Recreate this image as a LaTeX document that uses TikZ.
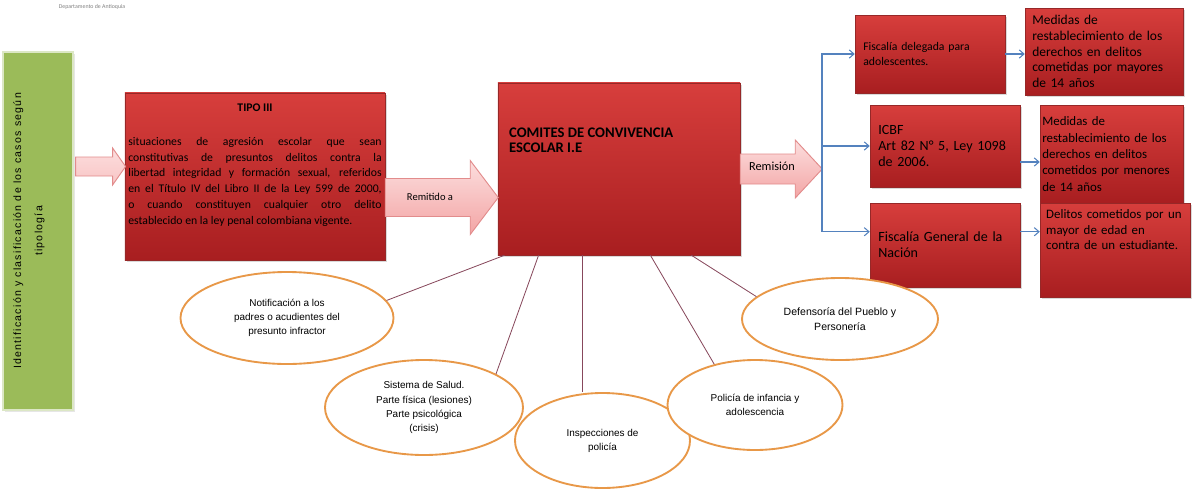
\documentclass[tikz,border=0pt]{standalone}
\usepackage{fontspec}
\setmainfont{Carlito}
\newfontfamily\spreadfont[LetterSpace=12]{Liberation Sans}
\newfontfamily\ringfamily{Liberation Sans}
\usetikzlibrary{shapes.geometric,shadows,arrows.meta}

\definecolor{boxtop}{RGB}{215,62,60}
\definecolor{boxbottom}{RGB}{168,30,32}
\definecolor{boxline}{RGB}{150,40,40}
\definecolor{pinktop}{RGB}{252,222,222}
\definecolor{pinkbottom}{RGB}{243,165,165}
\definecolor{pinkline}{RGB}{226,140,140}
\definecolor{leafgreen}{RGB}{155,187,89}
\definecolor{ringorange}{RGB}{232,152,72}
\definecolor{linkplum}{RGB}{135,72,92}
\definecolor{forkblue}{RGB}{84,130,190}

\begin{document}
\begin{tikzpicture}[x=0.03cm, y=-0.03cm,
    redbox/.style={draw=boxline, top color=boxtop, bottom color=boxbottom, inner sep=0pt,
      drop shadow={opacity=0.3, shadow xshift=1.5pt, shadow yshift=-1.5pt}},
    greenbox/.style={draw=leafgreen!35, line width=1pt, fill=leafgreen,
      drop shadow={opacity=0.2, shadow xshift=1.5pt, shadow yshift=-1.5pt}},
    pinkarrow/.style={draw=pinkline, top color=pinktop, bottom color=pinkbottom, line width=0.8pt},
    ring/.style={ellipse, draw=ringorange, line width=1.6pt, fill=white, inner sep=0pt,
      align=center, font=\ringfamily\fontsize{8.5}{12}\selectfont},
    link/.style={draw=linkplum, line width=0.7pt},
    forkarrow/.style={draw=forkblue, line width=0.9pt, -{Straight Barb[length=4pt, width=7pt]}},
    boxtext/.style={text width=4cm, align=left, font=\fontsize{12}{13.5}\selectfont}]
  \useasboundingbox (0,0) rectangle (1193,498);
  \node[font=\fontsize{5}{6}\selectfont, text=gray] (depto) at (92,7) {Departamento de Antioquia};

  \node[greenbox, minimum width=2.1cm, minimum height=10.74cm] (casos) at (38,231) {};
  \node[rotate=90, align=center, font=\spreadfont\fontsize{9}{18}\selectfont] (casostxt) at (29,231)
    {Identificación y clasificación de los casos según\\tipología};

  \node[redbox, minimum width=7.8cm, minimum height=5.01cm] (tipo) at (255,176.5) {};
  \node[font=\bfseries\fontsize{10}{12}\selectfont] (tipotitulo) at (255,108) {TIPO III};
  \node[anchor=north, text width=7.6cm, align=justify, font=\fontsize{10}{13.5}\selectfont] (tipotxt) at (255,133)
    {situaciones de agresión escolar que sean\linebreak
     constitutivas de presuntos delitos contra la\linebreak
     libertad integridad y formación sexual, referidos\linebreak
     en el Título IV del Libro II de la Ley 599 de 2000,\linebreak
     o cuando constituyen cualquier otro delito\linebreak
     establecido en la ley penal colombiana vigente.};

  \node[redbox, minimum width=7.26cm, minimum height=5.16cm] (comite) at (619,169) {};
  \node[anchor=north west, align=left, font=\bfseries\fontsize{12.5}{13}\selectfont] (comitetxt) at (505,124)
    {COMITES DE CONVIVENCIA\\ESCOLAR I.E};

  \node[redbox, minimum width=4.5cm, minimum height=2.34cm, boxtext, font=\fontsize{10}{12}\selectfont] (fisdel) at (930,54)
    {Fiscalía delegada para\\adolescentes.};
  \node[redbox, minimum width=4.74cm, minimum height=2.61cm, boxtext, text width=4.3cm, font=\fontsize{11.5}{13.5}\selectfont] (medmay) at (1104,51.5)
    {Medidas de\\restablecimiento de los\\derechos en delitos\\cometidas por mayores\\de 14 años};
  \node[redbox, minimum width=4.5cm, minimum height=2.46cm, boxtext] (icbf) at (945,146)
    {ICBF\\Art 82 N° 5, Ley 1098\\de 2006.};
  \node[redbox, minimum width=4.29cm, minimum height=2.94cm, boxtext, text width=4.15cm, font=\fontsize{11}{14}\selectfont] (medmen) at (1111.5,154)
    {Medidas de\\restablecimiento de los\\derechos en delitos\\cometidos por menores\\de 14 años};
  \node[redbox, minimum width=4.5cm, minimum height=2.52cm, boxtext] (fisgen) at (945,245)
    {Fiscalía General de la\\Nación};
  \node[redbox, minimum width=4.5cm, minimum height=2.82cm] (delitos) at (1115,250) {};
  \node[anchor=north west, boxtext, text width=4.3cm, inner sep=0pt, font=\fontsize{11}{13.5}\selectfont] (delitostxt) at (1046,209)
    {Delitos cometidos por un\\mayor de edad en\\contra de un estudiante.};

  % flechas de bloque
  \draw[pinkarrow] (casos.east) ++(2,-74) -- ++(37,0) -- ++(0,-9) -- ++(13,18.5)
    -- ++(-13,18.5) -- ++(0,-9) -- ++(-37,0) -- cycle;
  \draw[pinkarrow] (tipo.east) ++(0,2) -- ++(85,0) -- ++(0,-18) -- ++(28,37)
    -- ++(-28,37) -- ++(0,-18) -- ++(-85,0) -- cycle;
  \node[font=\fontsize{9}{10}\selectfont] (remitido) at (430,197) {Remitido a};
  \draw[pinkarrow] (comite.east) ++(0,-15) -- ++(55,0) -- ++(0,-14) -- ++(27,29)
    -- ++(-27,29) -- ++(0,-14) -- ++(-55,0) -- cycle;
  \node[font=\fontsize{10.5}{11}\selectfont] (remision) at (772,166) {Remisión};

  \coordinate (fork) at (822,169);
  \draw[forkarrow] (fork) |- (fisdel.west);
  \draw[forkarrow] (fork) |- (icbf.west);
  \draw[forkarrow] (fork) |- (fisgen.170);
  \draw[forkarrow] (fisdel.east) -- (fisdel.east -| medmay.west);
  \draw[forkarrow] (icbf.-12) -- (icbf.-12 -| medmen.west);
  \draw[forkarrow] (fisgen.10) -- (fisgen.10 -| delitos.west);

  % entidades
  \node[ring, minimum width=6.39cm, minimum height=2.76cm] (notif) at (287,318)
    {Notificación a los\\padres o acudientes del\\presunto infractor};
  \node[ring, minimum width=5.94cm, minimum height=2.85cm] (salud) at (424,407.5)
    {Sistema de Salud.\\Parte física (lesiones)\\Parte psicológica\\(crisis)};
  \node[ring, minimum width=5.25cm, minimum height=2.85cm] (insp) at (602.5,440.5)
    {Inspecciones de\\policía};
  \node[ring, minimum width=5.25cm, minimum height=2.7cm] (poli) at (755,405)
    {Policía de infancia y\\adolescencia};
  \node[ring, minimum width=5.88cm, minimum height=2.46cm, font=\ringfamily\fontsize{9}{12.5}\selectfont] (defen) at (840,319)
    {Defensoría del Pueblo y\\Personería};

  \draw[link] (comite.217) -- (notif.10);
  \draw[link] (comite.227) -- (salud.25);
  \draw[link] (comite.247) -- (comite.247 |- insp.north);
  \draw[link] (comite.290) -- (poli.135);
  \draw[link] (comite.310) -- (defen.165);
\end{tikzpicture}
\end{document}
